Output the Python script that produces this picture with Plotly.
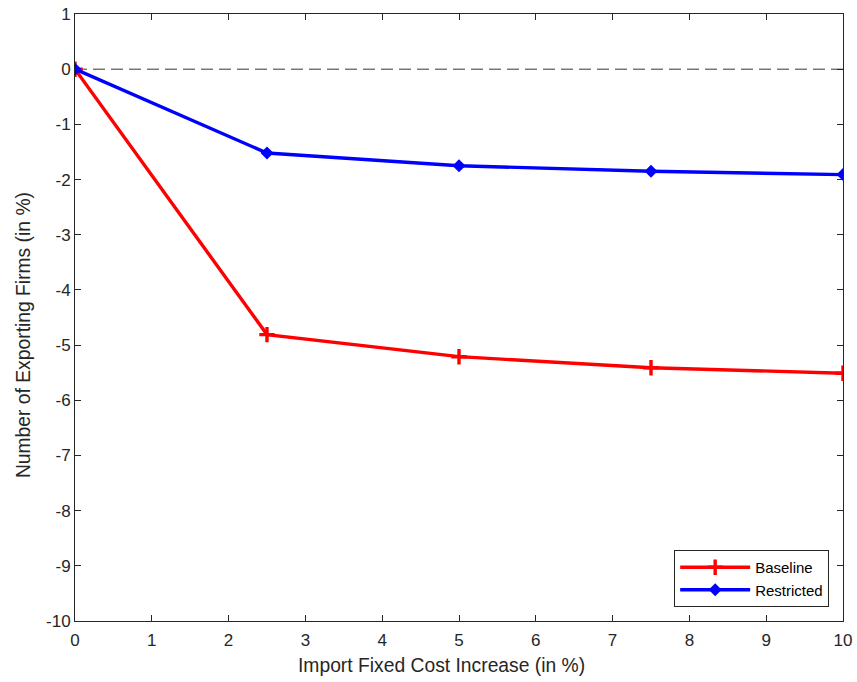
import plotly.graph_objects as go

cost_increase = [0, 2.5, 5, 7.5, 10]
baseline = [0, -4.81, -5.21, -5.41, -5.51]
restricted = [0, -1.52, -1.75, -1.85, -1.91]
x_ticks = list(range(0, 11))
y_ticks = list(range(-10, 2))
y_tick_labels = [str(v) for v in y_ticks]

font_family = "Liberation Sans, Arial"
fig = go.Figure()
fig.add_trace(go.Scatter(x=[0, 10], y=[0, 0], mode="lines",
                         line=dict(color="black", width=0.8, dash="12px,6px"),
                         showlegend=False, hoverinfo="skip"))
fig.add_trace(go.Scatter(x=cost_increase, y=baseline, mode="lines+markers", name="Baseline",
                         line=dict(color="#ff0000", width=3.4),
                         marker=dict(symbol="cross-thin", size=11, line=dict(color="#ff0000", width=3.4))))
fig.add_trace(go.Scatter(x=cost_increase, y=restricted, mode="lines+markers", name="Restricted",
                         line=dict(color="#0000ff", width=3.4),
                         marker=dict(symbol="diamond", size=10, color="#0000ff")))

axis_common = dict(showline=True, linecolor="#262626", linewidth=1, mirror="ticks",
                   ticks="inside", ticklen=6, tickcolor="#262626", showgrid=False, zeroline=False,
                   automargin=False,
                   tickfont=dict(family=font_family, size=17, color="#262626"))
fig.update_xaxes(range=[0, 10], tickvals=x_ticks, ticklabelstandoff=4, **axis_common)
fig.update_yaxes(range=[-10, 1], tickvals=y_ticks, ticktext=y_tick_labels, **axis_common)

title_font = dict(family=font_family, size=19.3, color="#262626")
fig.add_annotation(text="Import Fixed Cost Increase (in %)", xref="paper", yref="paper",
                   x=0.4766, y=-0.0741, xanchor="center", yanchor="middle",
                   showarrow=False, font=title_font)
fig.add_annotation(text="Number of Exporting Firms (in %)", xref="paper", yref="paper",
                   x=-0.0677, y=0.471, xanchor="center", yanchor="middle", textangle=-90,
                   showarrow=False, font=title_font)

fig.update_layout(width=857, height=682, margin=dict(l=75, r=14, t=14, b=61),
                  plot_bgcolor="white", paper_bgcolor="white",
                  legend=dict(x=0.982, y=0.023, xanchor="right", yanchor="bottom",
                              bordercolor="#262626", borderwidth=1, bgcolor="white",
                              font=dict(family=font_family, size=15, color="black"),
                              itemwidth=70, tracegroupgap=0))
fig.write_html("out.html")
